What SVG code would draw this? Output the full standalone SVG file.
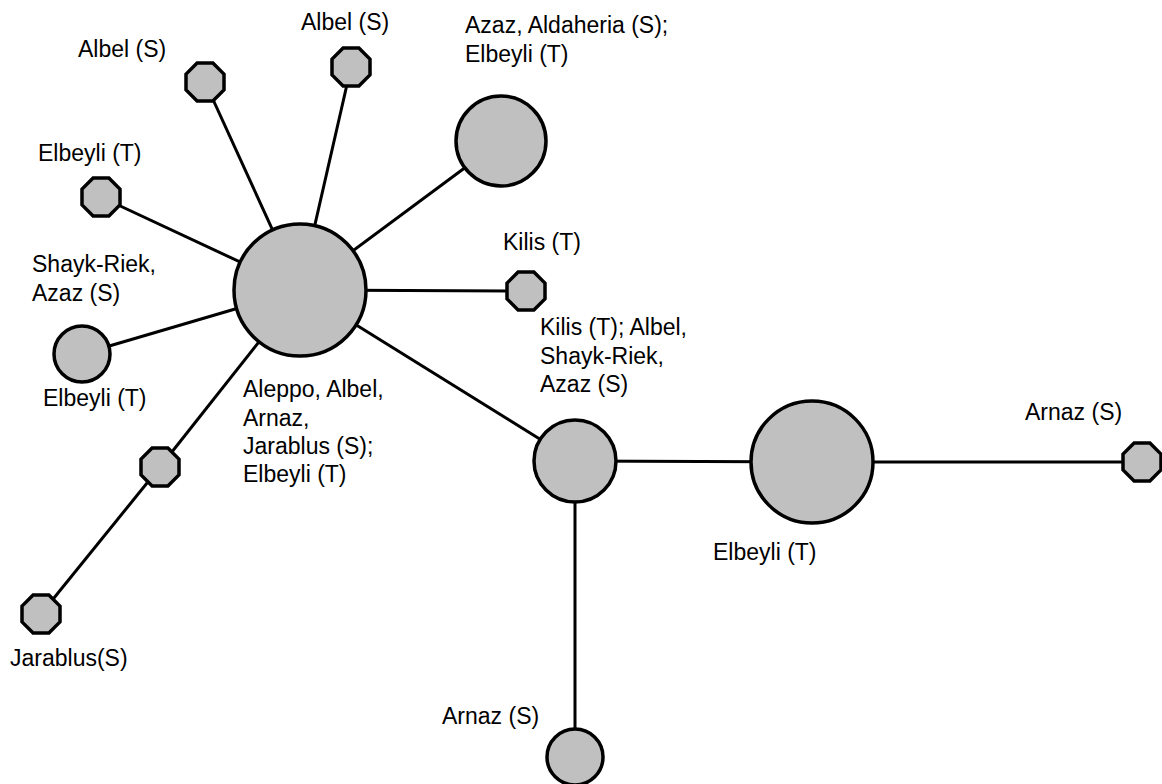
<svg xmlns="http://www.w3.org/2000/svg" width="1162" height="784" viewBox="0 0 1162 784">
<style>
.n{fill:#c0c0c0;stroke:#000;stroke-width:3.5}
.e{stroke:#000;stroke-width:3;fill:none}
text{font-family:"Liberation Sans",Arial,sans-serif;font-size:23px;fill:#000}
</style>
<defs>
<polygon id="oct" points="-7.9,-19 7.9,-19 19,-7.9 19,7.9 7.9,19 -7.9,19 -19,7.9 -19,-7.9"/>
</defs>
<rect width="1162" height="784" fill="#fff"/>
<g id="edges">
<line class="e" x1="300" y1="290" x2="205" y2="82"/>
<line class="e" x1="300" y1="290" x2="351" y2="67"/>
<line class="e" x1="300" y1="290" x2="501" y2="141"/>
<line class="e" x1="300" y1="290" x2="101" y2="197"/>
<line class="e" x1="300" y1="290" x2="526" y2="291"/>
<line class="e" x1="300" y1="290" x2="82" y2="354"/>
<line class="e" x1="300" y1="290" x2="160" y2="467"/>
<line class="e" x1="160" y1="467" x2="41" y2="614"/>
<line class="e" x1="300" y1="290" x2="575" y2="461"/>
<line class="e" x1="575" y1="461" x2="812" y2="462"/>
<line class="e" x1="812" y1="462" x2="1142" y2="462"/>
<line class="e" x1="575" y1="461" x2="575" y2="757"/>
</g>
<g id="n-center"><circle class="n" cx="300" cy="290" r="66"/>
<text x="243" y="397">Aleppo, Albel,</text><text x="243" y="426">Arnaz,</text><text x="243" y="454">Jarablus (S);</text><text x="243" y="482">Elbeyli (T)</text></g>
<g id="n-albel1"><use href="#oct" class="n" x="205" y="82"/><text x="78" y="57">Albel (S)</text></g>
<g id="n-albel2"><use href="#oct" class="n" x="351" y="67"/><text x="301" y="30">Albel (S)</text></g>
<g id="n-azaz"><circle class="n" cx="501" cy="141" r="45"/><text x="465" y="33">Azaz, Aldaheria (S);</text><text x="465" y="62">Elbeyli (T)</text></g>
<g id="n-elbeyli1"><use href="#oct" class="n" x="101" y="197"/><text x="38" y="161">Elbeyli (T)</text></g>
<g id="n-kilis"><use href="#oct" class="n" x="526" y="291"/><text x="503" y="250">Kilis (T)</text></g>
<g id="n-shayk"><circle class="n" cx="82" cy="354" r="28"/><text x="32" y="272">Shayk-Riek,</text><text x="32" y="301">Azaz (S)</text></g>
<g id="n-elbeyli2"><use href="#oct" class="n" x="160" y="467"/><text x="43" y="406">Elbeyli (T)</text></g>
<g id="n-jarablus"><use href="#oct" class="n" x="41" y="614"/><text x="10" y="666">Jarablus(S)</text></g>
<g id="n-mid"><circle class="n" cx="575" cy="461" r="41"/><text x="540" y="335">Kilis (T); Albel,</text><text x="540" y="364">Shayk-Riek,</text><text x="540" y="392">Azaz (S)</text></g>
<g id="n-elbeyli3"><circle class="n" cx="812" cy="462" r="61"/><text x="713" y="560">Elbeyli (T)</text></g>
<g id="n-arnaz1"><use href="#oct" class="n" x="1142" y="462"/><text x="1025" y="420">Arnaz (S)</text></g>
<g id="n-arnaz2"><circle class="n" cx="575" cy="757" r="28"/><text x="442" y="724">Arnaz (S)</text></g>
</svg>
